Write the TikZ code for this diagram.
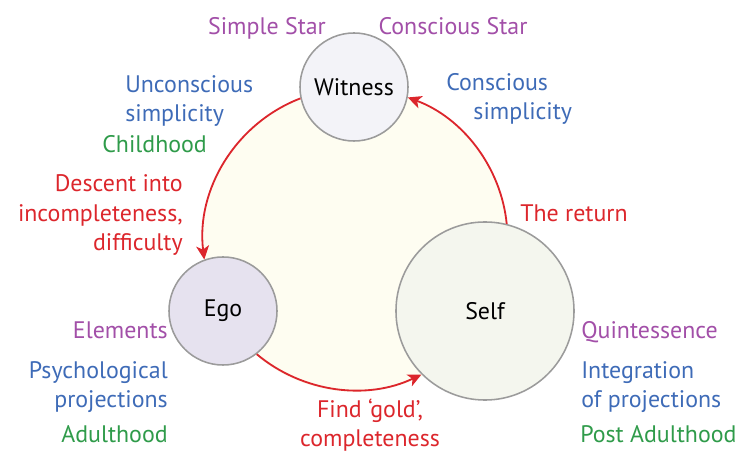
\documentclass[tikz,border=0pt]{standalone}
\usepackage{fontspec}
\setmainfont{PT Sans}
\usetikzlibrary{arrows.meta}

\definecolor{arcred}{HTML}{DC262C}
\definecolor{starpurple}{HTML}{A24FA8}
\definecolor{simpblue}{HTML}{3E6BB7}
\definecolor{agegreen}{HTML}{2F9B4A}
\definecolor{ringgray}{HTML}{9B9B9B}
\definecolor{cyclefill}{HTML}{FEFDF1}
\definecolor{witnessfill}{HTML}{F3F3F8}
\definecolor{egofill}{HTML}{E6E2EF}
\definecolor{selffill}{HTML}{F4F6EE}

\begin{document}
\begin{tikzpicture}[
    x=0.025cm, y=-0.025cm,
    font=\fontsize{17pt}{21.3pt}\selectfont,
    stage/.style={circle, draw=ringgray, line width=1.1pt, inner sep=0pt},
    note/.style={inner sep=0pt},
    arrow/.style={draw=arcred, line width=1.3pt, -{Stealth[length=3.4mm, width=3.2mm, inset=0.9mm]}}
]
    \useasboundingbox (0,0) rectangle (744,451);

    % the cycle and its three stages
    \node (cycle) [circle, fill=cyclefill, minimum size=7.6cm] at (355,240) {};
    \node (witness) [stage, fill=witnessfill, minimum size=2.7cm] at (354,87) {Witness};
    \node (ego) [stage, fill=egofill, minimum size=2.7cm] at (223,311) {Ego};
    \node (self) [stage, fill=selffill, minimum size=4.45cm] at (485,311) {Self};

    \draw [arrow] (witness.192) to[out=201, in=97, looseness=0.95] (ego.110);
    \draw [arrow] (ego.-52) to[out=-40, in=205.5, looseness=0.93] (self.225);
    \draw [arrow] (self.76) to[out=95.7, in=-20.3, looseness=0.92] (witness.-11);

    % labels (multi-line ones sit on the baseline of their last line)
    \node (simplestar) [note, text=starpurple, anchor=base] at (267,35) {Simple Star};
    \node (consciousstar) [note, text=starpurple, anchor=base] at (453,35) {Conscious Star};
    \node (unconscious) [note, text=simpblue, anchor=base west, align=left] at (125,122) {Unconscious\\simplicity};
    \node (childhood) [note, text=agegreen, anchor=base west] at (102,153) {Childhood};
    \node (descent) [note, text=arcred, anchor=base east, align=right] at (183,251) {Descent into\\incompleteness,\\difficulty};
    \node (conscious) [note, text=simpblue, anchor=base west, align=left] at (446,120) {Conscious\\\hspace*{0.68cm}simplicity};
    \node (return) [note, text=arcred, anchor=base west] at (520,222) {The return};
    \node (elements) [note, text=starpurple, anchor=base east] at (168,339) {Elements};
    \node (psych) [note, text=simpblue, anchor=base east, align=right] at (168,408) {Psychological\\projections};
    \node (adulthood) [note, text=agegreen, anchor=base east] at (168,443) {Adulthood};
    \node (quint) [note, text=starpurple, anchor=base west] at (581,339) {Quintessence};
    \node (integration) [note, text=simpblue, anchor=base west, align=left] at (581,408) {Integration\\of projections};
    \node (postadult) [note, text=agegreen, anchor=base west] at (580,443) {Post Adulthood};
    \node (gold) [note, text=arcred, anchor=base, align=center] at (370,447) {Find ‘gold’,\\completeness};
\end{tikzpicture}
\end{document}
